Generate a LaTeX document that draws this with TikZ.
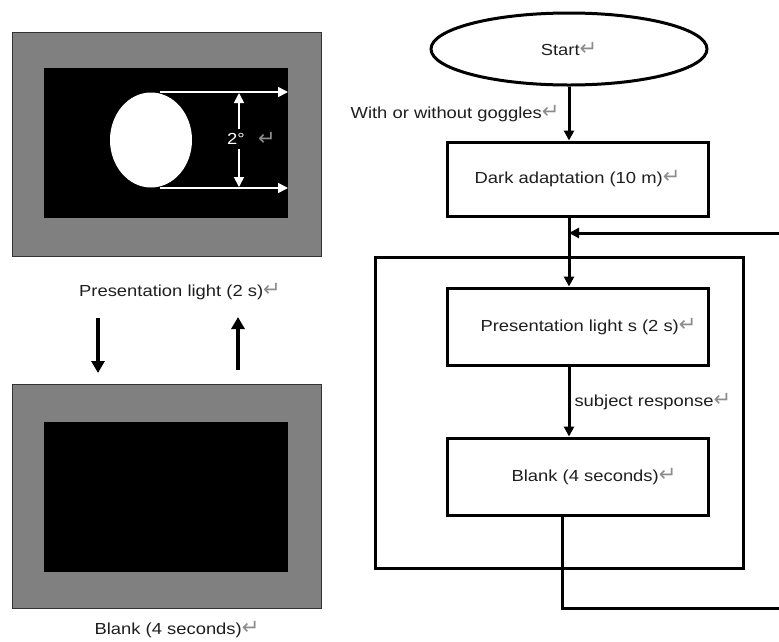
\documentclass[tikz,border=0pt]{standalone}
\usepackage{fontspec}
\setmainfont[FakeStretch=1.15]{Liberation Sans}
\newfontfamily\symfont{DejaVu Sans}
\usetikzlibrary{arrows.meta,shapes.geometric}
\definecolor{panelgray}{RGB}{128,128,128}
\definecolor{retgray}{RGB}{140,140,140}
\definecolor{inkgray}{RGB}{30,30,30}
\newcommand\retmark{{\color{retgray}\fontsize{21}{21}\symfont\char"21B5}}
\begin{document}
\begin{tikzpicture}[x=1pt,y=-1pt,
  font=\fontsize{16}{19}\selectfont,
  text=inkgray,
  box/.style={draw, line width=3pt, minimum width=261pt, minimum height=76pt, inner sep=0pt},
  flow/.style={line width=3pt, -{Triangle[length=10pt,width=10pt]}},
  plain/.style={line width=3pt},
  bigarrow/.style={line width=4pt, -{Triangle[length=12pt,width=13pt]}},
  whitearrow/.style={white, line width=1.6pt, -{Triangle[length=10pt,width=10pt]}},
  outerpanel/.style={draw=black!80, line width=1pt, fill=panelgray, minimum width=309pt, minimum height=224pt, inner sep=0pt},
  innerpanel/.style={fill=black, minimum width=244pt, minimum height=150pt, inner sep=0pt},
  txt/.style={inner sep=0pt}
]
\useasboundingbox (0,0) rectangle (779,641);

% ---- left panels ----
\node[outerpanel] (scr1) at (166.5,144) {};
\node[innerpanel] (scr1in) at (166,143) {};
\node[ellipse, fill=white, minimum width=82pt, minimum height=95pt, inner sep=0pt] (spot) at (151,140) {};
\coordinate (ta) at (160,92);
\coordinate (tb) at (288,92);
\coordinate (ba) at (160,188);
\coordinate (bb) at (288,188);
\draw[whitearrow] (ta) -- (tb);
\draw[whitearrow] (ba) -- (bb);
\node[txt, text=white] (deg) at (236,139) {2°};
\node[txt] (degret) at (267,139) {\retmark};
\coordinate (vt) at (239,93);
\coordinate (vb) at (239,187);
\draw[whitearrow] (deg.north -| vt) ++(0,-4) -- (vt);
\draw[whitearrow] (deg.south -| vb) ++(0,4) -- (vb);

\node[txt] (lbl1) at (180,292) {Presentation light (2 s)\retmark};

\node[outerpanel] (scr2) at (166.5,496) {};
\node[innerpanel] (scr2in) at (166,496.5) {};
\node[txt] (lbl2) at (177,630) {Blank (4 seconds)\retmark};

\coordinate (da) at (98,318);
\coordinate (db) at (98,373);
\coordinate (ua) at (238,370);
\coordinate (ub) at (238,317);
\draw[bigarrow] (da) -- (db);
\draw[bigarrow] (ua) -- (ub);

% ---- flowchart ----
\node[ellipse, draw, line width=3pt, minimum width=276pt, minimum height=72pt, inner sep=0pt] (start) at (569,49) {Start\retmark};
\node[box, minimum height=74pt] (dark) at (577.5,179) {Dark adaptation (10 m)\retmark};
\node[draw, line width=3pt, minimum width=368pt, minimum height=311pt, inner sep=0pt] (loop) at (559,412.5) {};
\node[box, minimum height=77pt] (pres) at (577.5,326.5) {\hspace*{22pt}Presentation light s (2 s)\retmark};
\node[box, minimum height=77pt] (blank) at (577.5,476.5) {\hspace*{33pt}Blank (4 seconds)\retmark};

\draw[flow] (start.south) -- (start.south |- dark.north)
  node[midway, left, inner sep=8pt] {With or without goggles\retmark};
\draw[flow] (start.south |- dark.south) -- (start.south |- pres.north);
\coordinate (rin) at (779,233);
\draw[flow] (rin) -- (rin -| start.south);
\draw[flow] (start.south |- pres.south) -- (start.south |- blank.north)
  node[midway, right, inner sep=4pt] {subject response\retmark};
\coordinate (rout) at (779,608);
\draw[plain] ([xshift=-15.5pt]blank.south) |- (rout);
\end{tikzpicture}
\end{document}
